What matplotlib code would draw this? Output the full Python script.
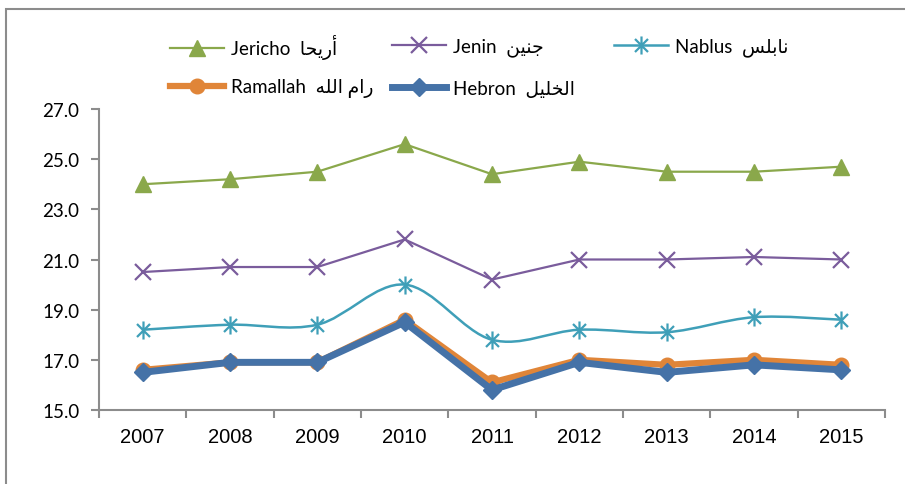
import numpy as np
import matplotlib
matplotlib.use('Agg')
import matplotlib.pyplot as plt
from matplotlib.path import Path
from matplotlib.patches import PathPatch, Rectangle
from matplotlib.lines import Line2D

years = ['2007', '2008', '2009', '2010', '2011', '2012', '2013', '2014', '2015']
jericho = [24.0, 24.2, 24.5, 25.6, 24.4, 24.9, 24.5, 24.5, 24.7]
jenin = [20.5, 20.7, 20.7, 21.8, 20.2, 21.0, 21.0, 21.1, 21.0]
nablus = [18.2, 18.4, 18.4, 20.0, 17.8, 18.2, 18.1, 18.7, 18.6]
ramallah = [16.6, 16.9, 16.9, 18.6, 16.1, 17.0, 16.8, 17.0, 16.8]
hebron = [16.5, 16.9, 16.9, 18.5, 15.8, 16.9, 16.5, 16.8, 16.6]

# arabic names, pre-shaped (presentation forms, visual order)
ar_jericho = '\uFE8E\uFEA4\uFEF3\uFEAD\uFE83'
ar_jenin = '\uFEE6\uFEF4\uFEE8\uFE9F'
ar_nablus = '\uFEB2\uFEE0\uFE91\uFE8E\uFEE7'
ar_ramallah = '\uFEEA\uFEE0\uFEDF\uFE8D \uFEE1\uFE8D\uFEAD'
ar_hebron = '\uFEDE\uFEF4\uFEE0\uFEA8\uFEDF\uFE8D'

FAM = ['Lato', 'DejaVu Sans']
plt.rcParams['font.family'] = FAM

c_jer = '#8aa84b'
c_jen = '#7a5c9c'
c_nab = '#3f9fb8'
c_ram = '#e08538'
c_heb = '#4572a7'

# asterisk marker like excel's
ast = Path([(0, 1), (0, -1), (-0.72, -0.72), (0.72, 0.72), (-0.72, 0.72), (0.72, -0.72)],
           [Path.MOVETO, Path.LINETO, Path.MOVETO, Path.LINETO, Path.MOVETO, Path.LINETO])

fig = plt.figure(figsize=(9.05, 4.85), dpi=100)
ax = fig.add_axes([99/905, 1-411/485, (885-99)/905, (411-110)/485])

x = np.arange(len(years))

l_jer, = ax.plot(x, jericho, color=c_jer, lw=1.6, marker='^', ms=11, zorder=3)
l_jen, = ax.plot(x, jenin, color=c_jen, lw=1.6, marker='x', ms=12, mew=1.6, zorder=3)

# smoothed line for nablus (bezier through the points)
pts = np.column_stack([x, nablus]).astype(float)
verts = [pts[0]]
codes = [Path.MOVETO]
n = len(pts)
for i in range(n-1):
    p0 = pts[max(i-1, 0)]
    p1 = pts[i]
    p2 = pts[i+1]
    p3 = pts[min(i+2, n-1)]
    verts += [p1 + (p2-p0)/6, p2 - (p3-p1)/6, p2]
    codes += [Path.CURVE4]*3
ax.add_patch(PathPatch(Path(verts, codes), facecolor='none', edgecolor=c_nab, lw=1.8, zorder=3))
ax.plot(x, nablus, ls='none', marker=ast, ms=13, mew=1.6, color=c_nab, zorder=3)
l_nab = Line2D([], [], color=c_nab, lw=1.8, marker=ast, ms=13, mew=1.6)

l_ram, = ax.plot(x, ramallah, color=c_ram, lw=4.5, marker='o', ms=10.5, zorder=4)
l_heb, = ax.plot(x, hebron, color=c_heb, lw=5, marker='D', ms=9, zorder=5)

ax.set_xlim(-0.5, len(years)-0.5)
ax.set_ylim(15, 27)
ax.set_yticks(np.arange(15, 27.1, 2))
ax.set_yticklabels(['%.1f' % v for v in np.arange(15, 27.1, 2)])
ax.set_xticks(np.arange(-0.5, len(years)), labels=[])
ax.set_xticks(x, labels=years, minor=True)
ax.tick_params(axis='x', which='major', length=6, width=1.5, color='#8c8c8c', direction='out')
ax.tick_params(axis='x', which='minor', length=0, pad=12)
for lab in ax.get_xticklabels(minor=True):
    lab.set_family(['Liberation Sans'])
    lab.set_fontsize(14.5)
ax.tick_params(axis='y', length=6, width=1.5, color='#8c8c8c', pad=8, labelsize=13.5)
for s in ['top', 'right']:
    ax.spines[s].set_visible(False)
for s in ['left', 'bottom']:
    ax.spines[s].set_color('#8c8c8c')
    ax.spines[s].set_linewidth(1.5)

# legend entries placed one by one (fig.legend keeps each one)
entries = [
    (l_jer, 'Jericho  ' + ar_jericho, 170, 48),
    (l_jen, 'Jenin  ' + ar_jenin, 392, 48),
    (l_nab, 'Nablus  ' + ar_nablus, 614, 48),
    (l_ram, 'Ramallah  ' + ar_ramallah, 170, 89),
    (l_heb, 'Hebron  ' + ar_hebron, 392, 89),
]
for h, lab, px, py in entries:
    fig.legend([h], [lab], loc='center left', bbox_to_anchor=(px/905, 1-py/485),
               frameon=False, borderpad=0, borderaxespad=0, handlelength=2.9,
               handletextpad=0.35, prop={'family': FAM, 'size': 13.5})

fig.add_artist(Rectangle((6/905, -0.2), 1.5, 0.2+1-10/485, transform=fig.transFigure,
                         fill=False, edgecolor='#8c8c8c', lw=1.5))

fig.savefig('out.png', dpi=100)
